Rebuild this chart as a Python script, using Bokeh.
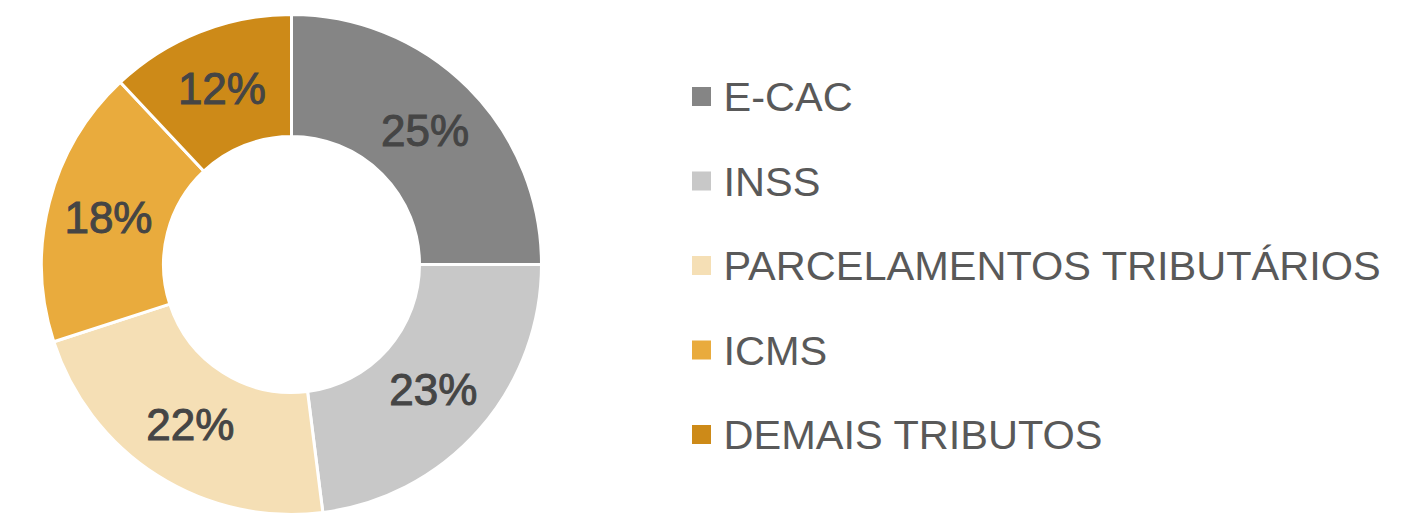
import math
from bokeh.plotting import figure
from bokeh.models import Range1d, ColumnDataSource
from bokeh.core.properties import value
from bokeh.embed import file_html
from bokeh.resources import INLINE

categories = ["E-CAC", "INSS", "PARCELAMENTOS TRIBUTÁRIOS", "ICMS", "DEMAIS TRIBUTOS"]
shares = [25, 23, 22, 18, 12]
colors = ["#858585", "#C8C8C8", "#F5DFB5", "#E9AB3D", "#CD8A18"]

W, H = 1394, 515

def Y(y_img):
    return H - y_img

p = figure(width=W, height=H, output_backend="svg", toolbar_location=None,
           x_range=Range1d(0, W), y_range=Range1d(0, H),
           min_border=0)
p.axis.visible = False
p.grid.visible = False
p.outline_line_color = None
p.background_fill_color = "white"

cx, cy = 291, Y(264)
r_out, r_in = 250, 128
total = sum(shares)
starts, ends, lx, ly, labels = [], [], [], [], []
cum = 0
for s in shares:
    a0 = math.pi / 2 - 2 * math.pi * (cum + s) / total
    a1 = math.pi / 2 - 2 * math.pi * cum / total
    starts.append(a0)
    ends.append(a1)
    mid = (a0 + a1) / 2
    rm = (r_out + r_in) / 2
    lx.append(cx + rm * math.cos(mid))
    ly.append(cy + rm * math.sin(mid))
    labels.append(f"{round(100 * s / total)}%")
    cum += s

src = ColumnDataSource(dict(start=starts, end=ends, color=colors, lx=lx, ly=ly, label=labels))
p.annular_wedge(x=cx, y=cy, inner_radius=r_in, outer_radius=r_out,
                start_angle="start", end_angle="end", fill_color="color",
                line_color="white", line_width=3, source=src)
p.text(x="lx", y="ly", text="label", source=src, text_align="center",
       text_baseline="middle", text_font=value("Liberation Sans"),
       text_font_size="44px", text_color="#454545",
       text_outline_color="#454545")

# legend
leg_y = [Y(96 + 84.5 * i) for i in range(len(categories))]
leg_src = ColumnDataSource(dict(y=leg_y, color=colors, name=categories))
p.scatter(x=701, y="y", marker="square", size=19, fill_color="color",
          line_color=None, source=leg_src)
p.text(x=723, y="y", text="name", source=leg_src, text_align="left",
       text_baseline="middle", text_font=value("Liberation Sans"),
       text_font_size="41.5px", text_color="#595959")

open("out.html", "w").write(file_html(p, INLINE))
